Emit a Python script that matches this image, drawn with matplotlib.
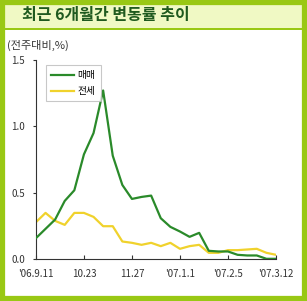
import matplotlib
matplotlib.use("Agg")
import matplotlib.pyplot as plt
from matplotlib.patches import Rectangle

plt.rcParams["font.family"] = ["Noto Sans CJK KR", "DejaVu Sans"]

# weekly change vs previous week (%)
sale = [0.16, 0.23, 0.30, 0.44, 0.52, 0.79, 0.95, 1.27, 0.78, 0.56,
        0.455, 0.47, 0.48, 0.31, 0.245, 0.21, 0.17, 0.20, 0.065, 0.06,
        0.06, 0.035, 0.03, 0.03, 0.005, 0.005]
jeonse = [0.28, 0.35, 0.29, 0.26, 0.35, 0.35, 0.32, 0.25, 0.25, 0.135,
          0.125, 0.11, 0.125, 0.10, 0.125, 0.08, 0.10, 0.11, 0.05, 0.05,
          0.07, 0.07, 0.075, 0.08, 0.05, 0.035]
tick_pos = [0, 5, 10, 15, 20, 25]
tick_labels = ["'06.9.11", "10.23", "11.27", "'07.1.1", "'07.2.5", "'07.3.12"]
y_ticks = [0.0, 0.5, 1.0, 1.5]

title = "최근 6개월간 변동률 추이"
y_unit = "(전주대비,%)"

GREEN = "#2a8a2a"
YELLOW = "#f0d22c"
FRAME = "#99c814"

fig = plt.figure(figsize=(3.07, 3.01), dpi=100)

# outer frame and title bar
fig.patches.append(Rectangle((0, 0.905), 1, 0.095, transform=fig.transFigure,
                             facecolor="#f0f9c4", edgecolor="none", zorder=0))
fig.patches.append(Rectangle((0, 0.900), 1, 0.008, transform=fig.transFigure,
                             facecolor=FRAME, edgecolor="none", zorder=1))
fig.patches.append(Rectangle((0.006, 0.008), 0.988, 0.984, transform=fig.transFigure,
                             facecolor="none", edgecolor=FRAME, linewidth=4.5, zorder=2))
fig.text(0.072, 0.951, title, fontsize=11.5, fontweight="bold", color="#1f5a1f",
         ha="left", va="center")
fig.text(0.022, 0.848, y_unit, fontsize=8, color="#333333", ha="left", va="center")

ax = fig.add_axes([0.117, 0.138, 0.782, 0.663])
x = list(range(len(sale)))
ax.plot(x, jeonse, color=YELLOW, linewidth=1.6, label="전세", zorder=2)
ax.plot(x, sale, color=GREEN, linewidth=1.6, label="매매", zorder=3)

ax.set_xlim(0, 25)
ax.set_ylim(0, 1.5)
ax.set_xticks(tick_pos)
ax.set_xticklabels(tick_labels)
ax.set_yticks(y_ticks)
ax.set_yticklabels([f"{v:.1f}" for v in y_ticks])
ax.tick_params(axis="x", direction="in", length=3, labelsize=7,
               colors="#333333", pad=7)
ax.tick_params(axis="y", direction="out", length=2, labelsize=7,
               colors="#333333", pad=6)
for side in ("top", "right"):
    ax.spines[side].set_visible(False)
for side in ("left", "bottom"):
    ax.spines[side].set_color("#333333")
    ax.spines[side].set_linewidth(0.8)

handles, labels = ax.get_legend_handles_labels()
leg = ax.legend(handles[::-1], labels[::-1], loc="upper left",
                bbox_to_anchor=(0.02, 1.0), fontsize=7, frameon=True,
                fancybox=False, edgecolor="#bbbbbb", handlelength=2.4,
                borderpad=0.55, labelspacing=0.6, handletextpad=0.3)
leg.get_frame().set_linewidth(0.8)

fig.savefig("out.png", dpi=100)
